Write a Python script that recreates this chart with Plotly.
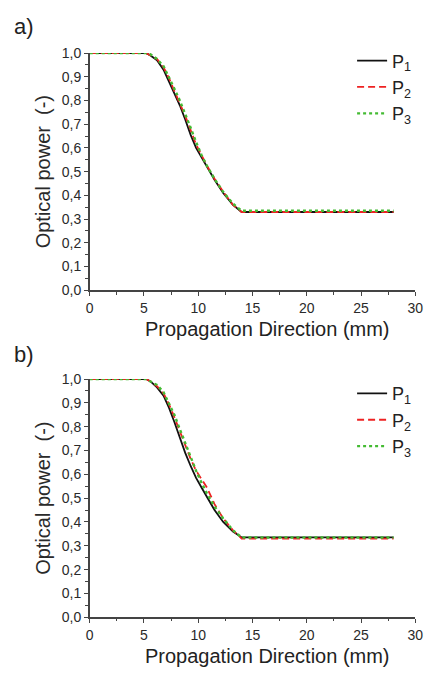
import plotly.graph_objects as go

# ---- data ----
x_pts = [0, 5.2, 5.6, 6.2, 6.8, 7.3, 7.8, 8.3, 8.8, 9.3, 9.8, 10.3, 10.8, 11.5, 12.3, 13.2, 14.0, 28.0]

a_p1 = [1.0, 1.0, 0.99, 0.97, 0.93, 0.88, 0.826, 0.78, 0.72, 0.655, 0.60, 0.56, 0.518, 0.466, 0.41, 0.36, 0.33, 0.33]
a_p2 = [1.0, 1.0, 0.99, 0.975, 0.94, 0.895, 0.84, 0.79, 0.735, 0.675, 0.615, 0.57, 0.525, 0.47, 0.415, 0.36, 0.33, 0.33]
a_p3 = [1.0, 1.0, 0.995, 0.975, 0.945, 0.90, 0.85, 0.80, 0.745, 0.685, 0.625, 0.57, 0.525, 0.47, 0.415, 0.365, 0.335, 0.335]

b_p1 = [1.0, 1.0, 0.99, 0.965, 0.93, 0.88, 0.82, 0.755, 0.69, 0.635, 0.585, 0.545, 0.505, 0.45, 0.40, 0.36, 0.335, 0.335]
b_p2 = [1.0, 1.0, 0.99, 0.97, 0.94, 0.895, 0.84, 0.78, 0.72, 0.665, 0.615, 0.58, 0.545, 0.475, 0.415, 0.365, 0.33, 0.33]
b_p3 = [1.0, 1.0, 0.99, 0.975, 0.945, 0.90, 0.85, 0.79, 0.73, 0.67, 0.615, 0.565, 0.52, 0.465, 0.415, 0.365, 0.335, 0.335]

series_names = ["P<sub>1</sub>", "P<sub>2</sub>", "P<sub>3</sub>"]
y_ticks = [i / 10 for i in range(11)]
y_tick_text = [f"{v:.1f}".replace(".", ",") for v in y_ticks]
x_ticks = [0, 5, 10, 15, 20, 25, 30]
x_title = "Propagation Direction (mm)"
y_title = "Optical power  (-)"

styles = [
    dict(color="#111111", width=1.8, dash="solid"),
    dict(color="#ee2222", width=1.8, dash="7px,4px"),
    dict(color="#44bb33", width=2.4, dash="dot"),
]

# page body has an 8px margin: size the figure so it fills the 432x675 window
OFF = 8
W, H = 432 - OFF, 675 - OFF
fig = go.Figure()

panels = [
    ("", "", "legend", [a_p1, a_p2, a_p3]),
    ("2", "2", "legend2", [b_p1, b_p2, b_p3]),
]
for xs, ys, leg, data in panels:
    for name, y, st in zip(series_names, data, styles):
        fig.add_trace(go.Scatter(
            x=x_pts, y=y, mode="lines", name=name, line=st,
            xaxis="x" + xs, yaxis="y" + ys, legend=leg,
        ))

def px_x(p):
    return (p - OFF) / W

def px_y(p):
    return 1 - (p - OFF) / H

FONT = "Liberation Sans, Arial"
tick_font = dict(family=FONT, size=14, color="#2a2a2a")
title_font = dict(family=FONT, size=20, color="#2a2a2a")

def xaxis(anchor, dom):
    return dict(
        domain=dom, anchor=anchor, range=[0, 30], tickvals=x_ticks,
        showline=True, linecolor="#444444", linewidth=1.5,
        ticks="outside", ticklen=4, tickwidth=1.2, tickcolor="#444444",
        minor=dict(dtick=2.5, ticks="outside", ticklen=2.5, tickwidth=1, tickcolor="#444444"),
        showgrid=False, zeroline=False, tickfont=tick_font,
    )

def yaxis(anchor, dom):
    return dict(
        domain=dom, anchor=anchor, range=[0, 1.0], tickvals=y_ticks, ticktext=y_tick_text,
        showline=True, linecolor="#444444", linewidth=1.5,
        ticks="outside", ticklen=4, tickwidth=1.2, tickcolor="#444444",
        minor=dict(tickvals=[i / 20 for i in range(1, 20, 2)], ticks="outside", ticklen=2.5,
                   tickwidth=1, tickcolor="#444444"),
        showgrid=False, zeroline=False, tickfont=tick_font,
        title=dict(text=y_title, font=title_font, standoff=6),
    )

def text_ann(text, x, y, size, xanchor="left", yanchor="top"):
    return dict(text=text, x=px_x(x), y=px_y(y), xref="paper", yref="paper",
                xanchor=xanchor, yanchor=yanchor, showarrow=False,
                font=dict(family=FONT, size=size, color="#222222"))

xdom = [px_x(88), px_x(423)]
legend_font = dict(family=FONT, size=18, color="#222222")
fig.update_layout(
    width=W, height=H,
    margin=dict(l=0, r=0, t=0, b=0),
    plot_bgcolor="white", paper_bgcolor="white",
    xaxis=xaxis("y", xdom),
    yaxis=yaxis("x", [px_y(289), px_y(46)]),
    xaxis2=xaxis("y2", xdom),
    yaxis2=yaxis("x2", [px_y(624), px_y(380)]),
    legend=dict(x=px_x(358), y=px_y(35), xanchor="left", yanchor="top",
                bgcolor="rgba(0,0,0,0)", font=legend_font,
                tracegroupgap=0, itemwidth=30),
    legend2=dict(x=px_x(358), y=px_y(376), xanchor="left", yanchor="top",
                 bgcolor="rgba(0,0,0,0)", font=legend_font,
                 tracegroupgap=0, itemwidth=30),
    annotations=[
        text_ann("a)", 8, 4, 22),
        text_ann("b)", 8, 340, 22),
        text_ann(x_title, 271, 329, 20, xanchor="center", yanchor="middle"),
        text_ann(x_title, 271, 664, 20, xanchor="center", yanchor="middle"),
    ],
)

fig.write_html("out.html")
